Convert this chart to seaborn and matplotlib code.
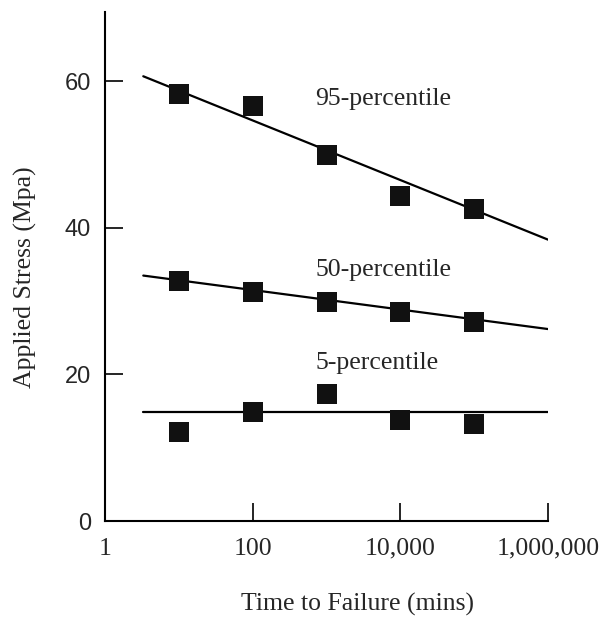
import numpy as np
import pandas as pd
import matplotlib
matplotlib.use("Agg")
import matplotlib.pyplot as plt
import seaborn as sns

# 观测点 (Time to Failure, mins)
times = [10, 100, 1000, 10000, 100000]
p95 = [58.3, 56.6, 49.9, 44.3, 42.6]
p50 = [32.7, 31.2, 29.9, 28.5, 27.2]
p5 = [12.2, 14.9, 17.3, 13.8, 13.2]

# 拟合直线端点
fit_x = [3.3, 1000000]
fit95 = [60.7, 38.4]
fit50 = [33.5, 26.2]
fit5 = [14.85, 14.85]

labels = ['95-percentile', '50-percentile', '5-percentile']
label_y = [57.6, 34.3, 21.6]
label_x = 700

xticks = [1, 100, 10000, 1000000]
xticklabels = ['1', '100', '10,000', '1,000,000']
yticks = [0, 20, 40, 60]

sns.set_theme(style='ticks')
plt.rcParams['font.family'] = ['Liberation Serif', 'DejaVu Serif']

fig = plt.figure(figsize=(6.02, 6.21), dpi=100)
ax = fig.add_axes([0.1744, 0.161, 0.736, 0.820])

pts = pd.DataFrame({
    'time': times * 3,
    'stress': p95 + p50 + p5,
    'grp': ['95'] * 5 + ['50'] * 5 + ['5'] * 5,
})
fits = pd.DataFrame({
    'time': fit_x * 3,
    'stress': fit95 + fit50 + fit5,
    'grp': ['95'] * 2 + ['50'] * 2 + ['5'] * 2,
})

sns.lineplot(data=fits, x='time', y='stress', units='grp', estimator=None,
             color='black', linewidth=1.6, ax=ax)
sns.scatterplot(data=pts, x='time', y='stress', marker='s', s=210,
                color='#111111', edgecolor='#111111', linewidth=0, ax=ax,
                zorder=3)

for txt, yy in zip(labels, label_y):
    ax.text(label_x, yy, txt, fontsize=18.5, va='center', ha='left')

ax.set_xscale('log')
ax.set_xlim(1, 1000000)
ax.set_ylim(0, 69.5)
ax.set_xticks(xticks)
ax.set_xticklabels(xticklabels, fontsize=18.5)
ax.minorticks_off()
ax.set_yticks(yticks)
ax.set_yticklabels([str(v) for v in yticks], family='Liberation Sans',
                   fontsize=17)

ax.tick_params(axis='both', direction='in', length=13, width=1.2,
               color='black')
ax.tick_params(axis='x', pad=12)
ax.tick_params(axis='y', pad=10)

ax.set_xlabel('Time to Failure (mins)', fontsize=18.5)
ax.set_ylabel('Applied Stress (Mpa)', fontsize=18.5)
ax.xaxis.set_label_coords(0.57, -0.141)
ax.yaxis.set_label_coords(-0.153, 0.479)

sns.despine(ax=ax)
for s in ['left', 'bottom']:
    ax.spines[s].set_linewidth(1.5)
    ax.spines[s].set_color('black')

fig.savefig('out.png', dpi=100)
